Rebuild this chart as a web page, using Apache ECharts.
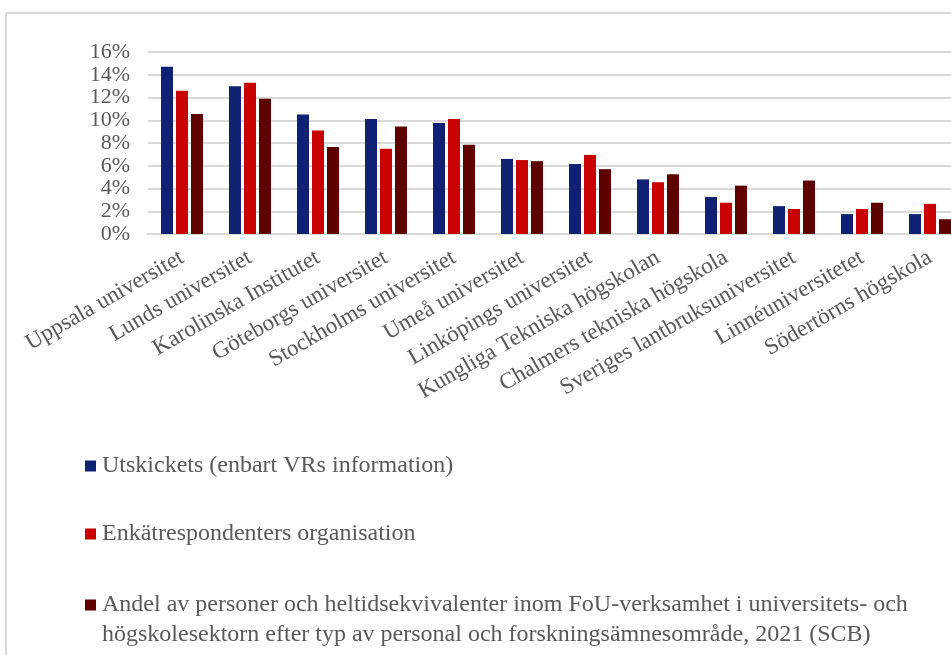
<!DOCTYPE html>
<html>
<head>
<meta charset="utf-8">
<script src="https://cdn.jsdelivr.net/npm/echarts@6/dist/echarts.min.js"></script>
<style>
  html, body { margin: 0; padding: 0; background: #fff; overflow: hidden; }
  /* the chart is cut on the right in the original, so the canvas is a bit wider than the window */
  #main { width: 980px; height: 655px; }
</style>
</head>
<body>
<div id="main"></div>
<script>
// lärosäten (kategorier)
var categories = ['Uppsala universitet', 'Lunds universitet', 'Karolinska Institutet', 'Göteborgs universitet',
  'Stockholms universitet', 'Umeå universitet', 'Linköpings universitet', 'Kungliga Tekniska högskolan',
  'Chalmers tekniska högskola', 'Sveriges lantbruksuniversitet', 'Linnéuniversitetet', 'Södertörns högskola']

// andelar i procent
var utskickets = [14.7, 13.0, 10.5, 10.1, 9.75, 6.6, 6.15, 4.8, 3.25, 2.45, 1.75, 1.75]
var enkat = [12.6, 13.3, 9.1, 7.5, 10.1, 6.5, 6.95, 4.55, 2.75, 2.2, 2.2, 2.65]
var scb = [10.55, 11.9, 7.65, 9.45, 7.85, 6.4, 5.7, 5.25, 4.25, 4.7, 2.75, 1.3]

var names = ['Utskickets (enbart VRs information)', 'Enkätrespondenters organisation',
  'Andel av personer och heltidsekvivalenter inom FoU-verksamhet i universitets- och högskolesektorn efter typ av personal och forskningsämnesområde, 2021 (SCB)']

var font = '"Liberation Serif", "Times New Roman", serif'
var grey = '#595959'

var myChart = echarts.init(document.getElementById('main'))

function legendFor (idx, top) {
  return {
    data: [names[idx]],
    left: 85,
    top: top,
    padding: 0,
    icon: 'rect',
    itemWidth: 11,
    itemHeight: 11,
    itemGap: 0,
    selectedMode: false,
    formatter: function (n) {
      // den långa texten bryts på två rader, första raden i höjd med symbolen
      if (idx === 2) {
        return '\nAndel av personer och heltidsekvivalenter inom FoU-verksamhet i universitets- och\nhögskolesektorn efter typ av personal och forskningsämnesområde, 2021 (SCB)'
      }
      return n
    },
    textStyle: { fontFamily: font, fontSize: 24, color: grey, lineHeight: 30, padding: [0, 0, 0, 1] }
  }
}

var option = {
  animation: false,
  graphic: [{
    type: 'rect',
    shape: { x: 6, y: 13, width: 1200, height: 1200 },
    style: { fill: 'none', stroke: '#d9d9d9', lineWidth: 2 },
    silent: true
  }],
  legend: [legendFor(0, 451), legendFor(1, 519), legendFor(2, 560)],
  grid: { left: 148, top: 52, width: 816, height: 182, containLabel: false },
  xAxis: {
    type: 'category',
    data: categories,
    axisLine: { lineStyle: { color: '#d9d9d9', width: 2 } },
    axisTick: { show: false },
    axisLabel: {
      rotate: 30,
      interval: 0,
      margin: 22,
      fontFamily: font,
      fontSize: 23,
      color: grey
    }
  },
  yAxis: {
    type: 'value',
    min: 0,
    max: 16,
    interval: 2,
    axisLine: { show: false },
    axisTick: { show: false },
    splitLine: { lineStyle: { color: '#d9d9d9', width: 2 } },
    axisLabel: {
      margin: 18,
      fontFamily: font,
      fontSize: 22,
      color: grey,
      formatter: '{value}%'
    }
  },
  series: [
    { name: names[0], type: 'bar', data: utskickets, barWidth: 12, barGap: '25%', itemStyle: { color: '#0e2172' } },
    { name: names[1], type: 'bar', data: enkat, barWidth: 12, barGap: '25%', itemStyle: { color: '#c80000' } },
    { name: names[2], type: 'bar', data: scb, barWidth: 12, barGap: '25%', itemStyle: { color: '#5e0000' } }
  ]
}

myChart.setOption(option)
</script>
</body>
</html>
